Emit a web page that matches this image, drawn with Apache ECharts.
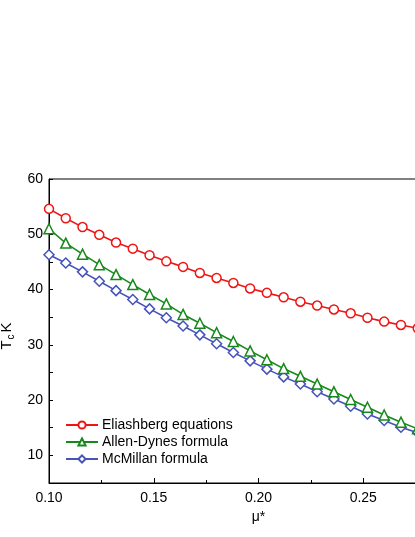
<!DOCTYPE html>
<html>
<head>
<meta charset="utf-8">
<script src="https://cdn.jsdelivr.net/npm/echarts@6/dist/echarts.min.js"></script>
<style>
  html, body { margin: 0; padding: 0; background: #fff; }
  #chart { width: 415px; height: 537px; }
</style>
</head>
<body>
<div id="chart"></div>
<script>
// mu* values (x)
const muStar = [0.100, 0.108, 0.116, 0.124, 0.132, 0.140, 0.148, 0.156, 0.164, 0.172, 0.180, 0.188,
  0.196, 0.204, 0.212, 0.220, 0.228, 0.236, 0.244, 0.252, 0.260, 0.268, 0.276]

// Tc in K
const eliashberg = [54.6, 52.9, 51.3, 49.9, 48.5, 47.4, 46.2, 45.1, 44.1, 43.0, 42.1, 41.2,
  40.2, 39.4, 38.6, 37.8, 37.1, 36.4, 35.7, 34.9, 34.2, 33.6, 33.0]
const allenDynes = [51.0, 48.4, 46.4, 44.5, 42.7, 40.9, 39.1, 37.4, 35.5, 33.9, 32.2, 30.6,
  28.9, 27.3, 25.7, 24.3, 22.9, 21.5, 20.1, 18.7, 17.3, 16.0, 14.8]
const mcMillan = [46.3, 44.8, 43.2, 41.5, 39.8, 38.2, 36.5, 34.9, 33.4, 31.8, 30.2, 28.6,
  27.1, 25.6, 24.2, 22.9, 21.5, 20.2, 18.9, 17.5, 16.3, 15.1, 14.1]

const seriesNames = ['Eliashberg equations', 'Allen-Dynes formula', 'McMillan formula']
const seriesColors = ['#ee1515', '#16891a', '#4653b8']
const seriesSymbols = ['circle', 'triangle', 'diamond']

const chart = echarts.init(document.getElementById('chart'))

// 把 x 和 y 拼成点
function toPoints(values) {
  return values.map((v, i) => [muStar[i], v])
}

const series = [eliashberg, allenDynes, mcMillan].map((values, i) => ({
  name: seriesNames[i],
  type: 'line',
  data: toPoints(values),
  symbol: seriesSymbols[i],
  symbolSize: i === 0 ? 9 : 10,
  showAllSymbol: true,
  lineStyle: { color: seriesColors[i], width: 1.6 },
  itemStyle: { color: '#fff', borderColor: seriesColors[i], borderWidth: 1.5 },
  z: 3 - i
}))

const axisFont = { color: '#000', fontSize: 14, fontFamily: 'Liberation Sans, Arial, sans-serif' }

const option = {
  animation: false,
  backgroundColor: '#fff',
  grid: {
    left: 49,
    top: 179,
    bottom: 54,
    right: -53,
    containLabel: false,
    outerBoundsMode: 'none',
    show: true,
    borderColor: '#000',
    borderWidth: 1
  },
  legend: {
    orient: 'vertical',
    left: 65,
    top: 418,
    padding: 0,
    itemWidth: 32,
    itemHeight: 9,
    itemGap: 3,
    data: seriesNames,
    textStyle: { ...axisFont, lineHeight: 14, padding: [0, 0, 0, -1] }
  },
  xAxis: {
    type: 'value',
    min: 0.10,
    max: 0.30,
    interval: 0.05,
    name: 'μ*',
    nameLocation: 'middle',
    nameGap: 26,
    nameTextStyle: axisFont,
    axisLine: { lineStyle: { color: '#000', width: 1 } },
    axisTick: { inside: true, length: 5, lineStyle: { color: '#000' } },
    minorTick: { show: true, splitNumber: 2, length: 3, lineStyle: { color: '#000' } },
    axisLabel: { ...axisFont, margin: 8, formatter: v => v.toFixed(2) },
    splitLine: { show: false }
  },
  yAxis: {
    type: 'value',
    min: 5,
    max: 60,
    interval: 5,
    name: '{t|T}{s|c}{t|K}',
    nameLocation: 'middle',
    nameGap: 22,
    nameRotate: 90,
    nameTextStyle: {
      ...axisFont,
      padding: [0, 10, 0, 0],
      rich: {
        t: { fontSize: 15, color: '#000', lineHeight: 20, verticalAlign: 'middle' },
        s: { fontSize: 10, color: '#000', lineHeight: 20, verticalAlign: 'bottom', padding: [0, 2, 0, 1] }
      }
    },
    axisLine: { lineStyle: { color: '#000', width: 1 } },
    axisTick: { inside: true, length: 4, lineStyle: { color: '#000' } },
    axisLabel: { ...axisFont, margin: 6, formatter: v => (v % 10 === 0 ? String(v) : '') },
    splitLine: { show: false }
  },
  series: series
}

chart.setOption(option)
</script>
</body>
</html>
